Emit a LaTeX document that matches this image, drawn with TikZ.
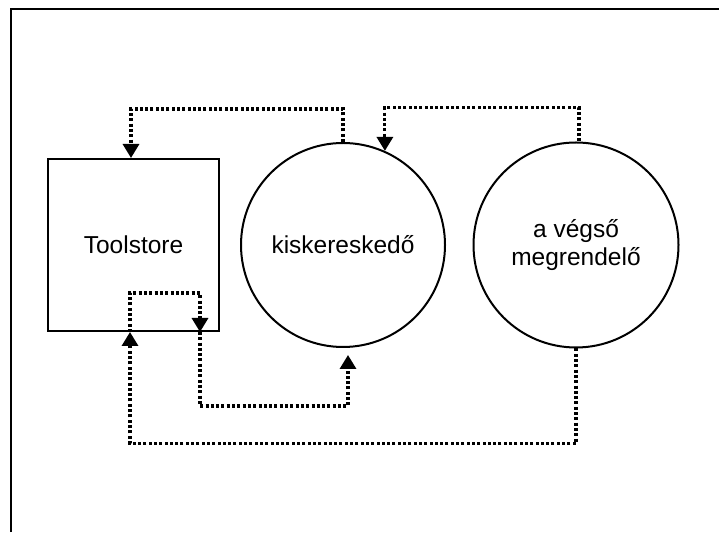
\documentclass[tikz,border=0pt]{standalone}
\usepackage{fontspec}
\setmainfont{Liberation Sans}
\usepackage{tikz}
\usetikzlibrary{arrows.meta,positioning,calc}
\definecolor{dfink}{HTML}{000000}

\begin{document}
\begin{tikzpicture}[x=1pt,y=1pt,>={Triangle[width=16pt,length=14pt]},
  unit/.style={draw=dfink,line width=2pt,inner sep=0pt,align=center,
    font=\fontsize{24.5}{28.5}\selectfont},
  flow/.style={->,draw=dfink,line width=3.2pt,dash pattern=on 3pt off 2.3pt}]
\useasboundingbox (0,0) rectangle (719,532);
\draw[dfink,line width=2pt] (11,0) -- (11,522.5) -- (719,522.5);
\node[unit,rectangle,minimum width=171,minimum height=172] (store)
  at (133.5,287) {Toolstore};
\node[unit,circle,minimum size=204] (kisker) at (343,287) {kiskereskedő};
\node[unit,circle,minimum size=205] (vegso) at (576,287)
  {a végső\\megrendelő};
% points on the box and the circles
\coordinate (sA) at ([xshift=83]store.south west);
\coordinate (sB) at ([xshift=153]store.south west);
\coordinate (tA) at ([xshift=-2.5]store.north);
\coordinate (kin) at ([xshift=5,yshift=-7]kisker.south);
\coordinate (vtop) at ([xshift=3]vegso.north);
% connectors
\draw[flow] (kisker.north) -- ++(0,33) -| (tA);
\draw[flow] (vtop) -- ++(0,34) -| (kisker.66);
\draw[flow] (vegso.south) -- ++(0,-95) -| (sA);
\draw[flow] (sA) -- ++(0,39) -| (sB);
\draw[flow] (sB) -- ++(0,-74) -| (kin);
\end{tikzpicture}
\end{document}
